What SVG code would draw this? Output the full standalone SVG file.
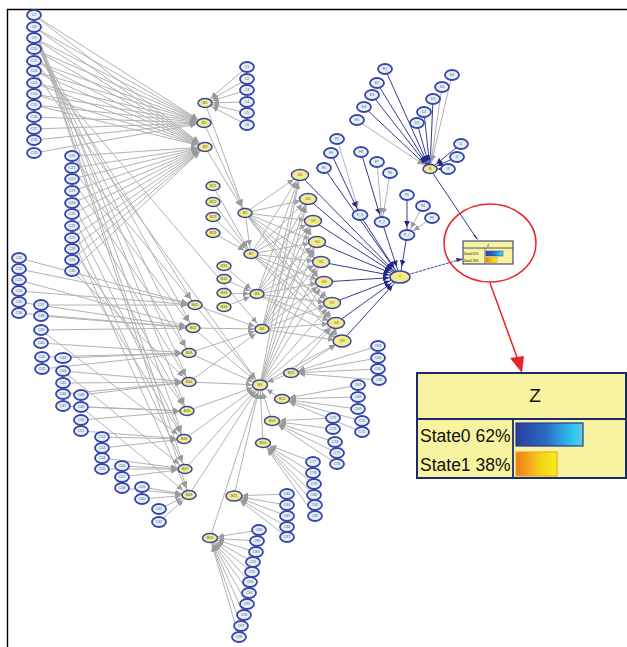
<svg xmlns="http://www.w3.org/2000/svg" width="627" height="647" viewBox="0 0 627 647">
<defs>
<style>
.lb{fill:#e3f1f8;stroke:#3a44a8;stroke-width:1.8}
.yl{fill:#f4ec86;stroke:#3a44a8;stroke-width:1.5}
.t{font-family:"Liberation Sans",Arial,sans-serif;font-size:3.6px;fill:#556;text-anchor:middle}
.g{stroke:#b2b2b2;stroke-width:1;fill:none;marker-end:url(#ag)}
.b{stroke:#333c94;stroke-width:1;fill:none;marker-end:url(#ab)}
.bY{stroke:#333c94;stroke-width:1;fill:none;marker-end:url(#aY)}
.zt{font-family:"Liberation Sans",Arial,sans-serif;fill:#111}
</style>
<marker id="ag" viewBox="0 0 16 6" refX="14" refY="3" markerWidth="16" markerHeight="6" markerUnits="userSpaceOnUse" orient="auto"><path d="M0,0 L6,3 L0,6z" fill="#9a9a9a"/></marker>
<marker id="ab" viewBox="0 0 16 6" refX="14" refY="3" markerWidth="16" markerHeight="6" markerUnits="userSpaceOnUse" orient="auto"><path d="M0,0 L6,3 L0,6z" fill="#222a88"/></marker>
<marker id="aY" viewBox="0 0 18 6" refX="17" refY="3" markerWidth="18" markerHeight="6" markerUnits="userSpaceOnUse" orient="auto"><path d="M0,0 L6,3 L0,6z" fill="#222a88"/></marker>
<linearGradient id="gb" x1="0" x2="1" y1="0" y2="0"><stop offset="0" stop-color="#2a3f9c"/><stop offset="0.45" stop-color="#2a6cc4"/><stop offset="0.85" stop-color="#2ec6f2"/><stop offset="1" stop-color="#62c9dc"/></linearGradient>
<linearGradient id="go" x1="0" x2="1" y1="0" y2="0"><stop offset="0" stop-color="#f07a1c"/><stop offset="0.6" stop-color="#f6d21a"/><stop offset="1" stop-color="#f8ec18"/></linearGradient>
</defs>
<rect x="0" y="0" width="627" height="647" fill="#fff"/>
<path d="M7.5,647 V9.5 H627" fill="none" stroke="#000" stroke-width="1.4"/>

<g id="connectors">
<line class="g" x1="34" y1="15" x2="204" y2="123"/><line class="g" x1="34" y1="27" x2="204" y2="123"/><line class="g" x1="34" y1="38" x2="204" y2="123"/><line class="g" x1="34" y1="49" x2="204" y2="123"/><line class="g" x1="34" y1="61" x2="204" y2="123"/><line class="g" x1="34" y1="71" x2="204" y2="123"/><line class="g" x1="34" y1="83" x2="204" y2="123"/><line class="g" x1="34" y1="94" x2="204" y2="123"/><line class="g" x1="34" y1="105" x2="204" y2="123"/><line class="g" x1="34" y1="117" x2="204" y2="123"/><line class="g" x1="34" y1="129" x2="204" y2="123"/><line class="g" x1="34" y1="140" x2="204" y2="123"/><line class="g" x1="34" y1="153" x2="204" y2="123"/>
<line class="g" x1="34" y1="15" x2="205" y2="147"/><line class="g" x1="34" y1="27" x2="205" y2="147"/><line class="g" x1="34" y1="38" x2="205" y2="147"/><line class="g" x1="34" y1="49" x2="205" y2="147"/><line class="g" x1="34" y1="61" x2="205" y2="147"/><line class="g" x1="34" y1="71" x2="205" y2="147"/><line class="g" x1="34" y1="83" x2="205" y2="147"/><line class="g" x1="34" y1="94" x2="205" y2="147"/><line class="g" x1="34" y1="105" x2="205" y2="147"/>
<line class="g" x1="34" y1="27" x2="184" y2="439"/><line class="g" x1="34" y1="27" x2="185" y2="469"/><line class="g" x1="34" y1="27" x2="189" y2="495"/><line class="g" x1="34" y1="27" x2="187" y2="411"/>
<line class="g" x1="34" y1="38" x2="189" y2="382"/><line class="g" x1="34" y1="38" x2="189" y2="353"/><line class="g" x1="34" y1="38" x2="193" y2="328"/>
<line class="g" x1="34" y1="49" x2="195" y2="305"/><line class="g" x1="34" y1="61" x2="262" y2="329"/><line class="g" x1="34" y1="71" x2="260" y2="385"/>
<line class="g" x1="72" y1="156" x2="205" y2="147"/><line class="g" x1="72" y1="168" x2="205" y2="147"/><line class="g" x1="72" y1="179" x2="205" y2="147"/><line class="g" x1="72" y1="191" x2="205" y2="147"/><line class="g" x1="72" y1="203" x2="205" y2="147"/><line class="g" x1="72" y1="214" x2="205" y2="147"/><line class="g" x1="72" y1="226" x2="205" y2="147"/><line class="g" x1="72" y1="238" x2="205" y2="147"/><line class="g" x1="72" y1="249" x2="205" y2="147"/><line class="g" x1="72" y1="260" x2="205" y2="147"/><line class="g" x1="72" y1="271" x2="205" y2="147"/>
<line class="g" x1="72" y1="156" x2="195" y2="305"/><line class="g" x1="72" y1="168" x2="193" y2="328"/><line class="g" x1="72" y1="179" x2="189" y2="353"/><line class="g" x1="72" y1="191" x2="189" y2="382"/><line class="g" x1="72" y1="203" x2="187" y2="411"/><line class="g" x1="72" y1="214" x2="184" y2="439"/><line class="g" x1="72" y1="226" x2="185" y2="469"/><line class="g" x1="72" y1="238" x2="189" y2="495"/><line class="g" x1="72" y1="249" x2="187" y2="411"/><line class="g" x1="72" y1="260" x2="184" y2="439"/><line class="g" x1="72" y1="271" x2="189" y2="382"/>
<line class="g" x1="19" y1="258" x2="195" y2="305"/><line class="g" x1="19" y1="269" x2="195" y2="305"/><line class="g" x1="19" y1="280" x2="193" y2="328"/><line class="g" x1="19" y1="291" x2="195" y2="305"/><line class="g" x1="19" y1="302" x2="193" y2="328"/><line class="g" x1="19" y1="313" x2="193" y2="328"/>
<line class="g" x1="41" y1="305" x2="195" y2="305"/><line class="g" x1="41" y1="316" x2="193" y2="328"/><line class="g" x1="41" y1="330" x2="193" y2="328"/><line class="g" x1="41" y1="343" x2="189" y2="353"/><line class="g" x1="42" y1="357" x2="189" y2="353"/><line class="g" x1="42" y1="369" x2="189" y2="353"/>
<line class="g" x1="63" y1="358" x2="189" y2="353"/><line class="g" x1="63" y1="371" x2="189" y2="382"/><line class="g" x1="63" y1="383" x2="189" y2="382"/><line class="g" x1="63" y1="394" x2="189" y2="382"/><line class="g" x1="63" y1="406" x2="187" y2="411"/>
<line class="g" x1="81" y1="395" x2="189" y2="382"/><line class="g" x1="81" y1="407" x2="187" y2="411"/><line class="g" x1="81" y1="420" x2="187" y2="411"/><line class="g" x1="81" y1="431" x2="184" y2="439"/>
<line class="g" x1="102" y1="437" x2="184" y2="439"/><line class="g" x1="102" y1="448" x2="184" y2="439"/><line class="g" x1="102" y1="458" x2="185" y2="469"/><line class="g" x1="102" y1="469" x2="185" y2="469"/>
<line class="g" x1="122" y1="466" x2="185" y2="469"/><line class="g" x1="122" y1="477" x2="185" y2="469"/><line class="g" x1="122" y1="488" x2="189" y2="495"/>
<line class="g" x1="142" y1="487" x2="189" y2="495"/><line class="g" x1="142" y1="499" x2="189" y2="495"/>
<line class="g" x1="159" y1="509" x2="189" y2="495"/><line class="g" x1="159" y1="522" x2="189" y2="495"/>
<line class="g" x1="63" y1="371" x2="185" y2="469"/><line class="g" x1="41" y1="330" x2="184" y2="439"/><line class="g" x1="81" y1="407" x2="189" y2="495"/>
<line class="g" x1="195" y1="305" x2="262" y2="329"/><line class="g" x1="193" y1="328" x2="262" y2="329"/><line class="g" x1="189" y1="353" x2="262" y2="329"/><line class="g" x1="195" y1="305" x2="260" y2="385"/><line class="g" x1="193" y1="328" x2="260" y2="385"/><line class="g" x1="189" y1="353" x2="260" y2="385"/><line class="g" x1="189" y1="382" x2="260" y2="385"/><line class="g" x1="187" y1="411" x2="260" y2="385"/><line class="g" x1="184" y1="439" x2="260" y2="385"/><line class="g" x1="185" y1="469" x2="260" y2="385"/><line class="g" x1="189" y1="495" x2="260" y2="385"/><line class="g" x1="189" y1="382" x2="262" y2="329"/>
<line class="g" x1="247" y1="67" x2="205" y2="103"/><line class="g" x1="247" y1="79" x2="205" y2="103"/><line class="g" x1="247" y1="90" x2="205" y2="103"/><line class="g" x1="247" y1="102" x2="205" y2="103"/><line class="g" x1="247" y1="113" x2="205" y2="103"/><line class="g" x1="247" y1="125" x2="205" y2="103"/>
<line class="g" x1="205" y1="103" x2="245" y2="213"/><line class="g" x1="204" y1="123" x2="245" y2="213"/><line class="g" x1="205" y1="147" x2="245" y2="213"/>
<line class="g" x1="213" y1="186" x2="251" y2="254"/><line class="g" x1="213" y1="202" x2="251" y2="254"/><line class="g" x1="213" y1="217" x2="251" y2="254"/><line class="g" x1="213" y1="233" x2="251" y2="254"/>
<line class="g" x1="224" y1="266" x2="257" y2="294"/><line class="g" x1="224" y1="279" x2="257" y2="294"/><line class="g" x1="224" y1="293" x2="257" y2="294"/><line class="g" x1="224" y1="307" x2="257" y2="294"/>
<line class="g" x1="245" y1="213" x2="251" y2="254"/>
<line class="g" x1="245" y1="213" x2="300" y2="175"/><line class="g" x1="245" y1="213" x2="308" y2="199"/><line class="g" x1="245" y1="213" x2="313" y2="221"/><line class="g" x1="245" y1="213" x2="317" y2="242"/><line class="g" x1="245" y1="213" x2="321" y2="262"/><line class="g" x1="245" y1="213" x2="324" y2="282"/><line class="g" x1="245" y1="213" x2="332" y2="303"/><line class="g" x1="245" y1="213" x2="336" y2="323"/><line class="g" x1="245" y1="213" x2="342" y2="341"/>
<line class="g" x1="251" y1="254" x2="300" y2="175"/><line class="g" x1="251" y1="254" x2="308" y2="199"/><line class="g" x1="251" y1="254" x2="313" y2="221"/><line class="g" x1="251" y1="254" x2="317" y2="242"/><line class="g" x1="251" y1="254" x2="321" y2="262"/><line class="g" x1="251" y1="254" x2="324" y2="282"/><line class="g" x1="251" y1="254" x2="332" y2="303"/><line class="g" x1="251" y1="254" x2="336" y2="323"/><line class="g" x1="251" y1="254" x2="342" y2="341"/>
<line class="g" x1="257" y1="294" x2="300" y2="175"/><line class="g" x1="257" y1="294" x2="308" y2="199"/><line class="g" x1="257" y1="294" x2="313" y2="221"/><line class="g" x1="257" y1="294" x2="317" y2="242"/><line class="g" x1="257" y1="294" x2="321" y2="262"/><line class="g" x1="257" y1="294" x2="324" y2="282"/><line class="g" x1="257" y1="294" x2="332" y2="303"/><line class="g" x1="257" y1="294" x2="336" y2="323"/><line class="g" x1="257" y1="294" x2="342" y2="341"/>
<line class="g" x1="262" y1="329" x2="300" y2="175"/><line class="g" x1="262" y1="329" x2="308" y2="199"/><line class="g" x1="262" y1="329" x2="313" y2="221"/><line class="g" x1="262" y1="329" x2="317" y2="242"/><line class="g" x1="262" y1="329" x2="321" y2="262"/><line class="g" x1="262" y1="329" x2="324" y2="282"/><line class="g" x1="262" y1="329" x2="332" y2="303"/><line class="g" x1="262" y1="329" x2="336" y2="323"/><line class="g" x1="262" y1="329" x2="342" y2="341"/>
<line class="g" x1="260" y1="385" x2="300" y2="175"/><line class="g" x1="260" y1="385" x2="308" y2="199"/><line class="g" x1="260" y1="385" x2="313" y2="221"/><line class="g" x1="260" y1="385" x2="317" y2="242"/><line class="g" x1="260" y1="385" x2="321" y2="262"/><line class="g" x1="260" y1="385" x2="324" y2="282"/><line class="g" x1="260" y1="385" x2="332" y2="303"/><line class="g" x1="260" y1="385" x2="336" y2="323"/><line class="g" x1="260" y1="385" x2="342" y2="341"/>
<line class="g" x1="378" y1="346" x2="291" y2="373"/><line class="g" x1="378" y1="358" x2="291" y2="373"/><line class="g" x1="378" y1="369" x2="291" y2="373"/><line class="g" x1="379" y1="380" x2="291" y2="373"/>
<line class="g" x1="358" y1="385" x2="282" y2="399"/><line class="g" x1="358" y1="397" x2="282" y2="399"/><line class="g" x1="358" y1="409" x2="282" y2="399"/><line class="g" x1="362" y1="421" x2="282" y2="399"/><line class="g" x1="362" y1="432" x2="282" y2="399"/>
<line class="g" x1="333" y1="418" x2="272" y2="421"/><line class="g" x1="333" y1="429" x2="272" y2="421"/><line class="g" x1="335" y1="442" x2="272" y2="421"/><line class="g" x1="337" y1="453" x2="272" y2="421"/><line class="g" x1="337" y1="464" x2="272" y2="421"/>
<line class="g" x1="313" y1="462" x2="263" y2="443"/><line class="g" x1="313" y1="473" x2="263" y2="443"/><line class="g" x1="314" y1="484" x2="263" y2="443"/><line class="g" x1="314" y1="495" x2="263" y2="443"/><line class="g" x1="315" y1="505" x2="263" y2="443"/><line class="g" x1="315" y1="516" x2="263" y2="443"/>
<line class="g" x1="287" y1="494" x2="234" y2="496"/><line class="g" x1="287" y1="505" x2="234" y2="496"/><line class="g" x1="287" y1="516" x2="234" y2="496"/><line class="g" x1="287" y1="527" x2="234" y2="496"/><line class="g" x1="287" y1="537" x2="234" y2="496"/>
<line class="g" x1="259" y1="530" x2="210" y2="538"/><line class="g" x1="257" y1="541" x2="210" y2="538"/><line class="g" x1="256" y1="552" x2="210" y2="538"/><line class="g" x1="253" y1="562" x2="210" y2="538"/><line class="g" x1="252" y1="572" x2="210" y2="538"/><line class="g" x1="250" y1="582" x2="210" y2="538"/><line class="g" x1="249" y1="593" x2="210" y2="538"/><line class="g" x1="247" y1="604" x2="210" y2="538"/><line class="g" x1="244" y1="615" x2="210" y2="538"/><line class="g" x1="241" y1="626" x2="210" y2="538"/><line class="g" x1="239" y1="637" x2="210" y2="538"/>
<line class="g" x1="291" y1="373" x2="260" y2="385"/><line class="g" x1="282" y1="399" x2="260" y2="385"/><line class="g" x1="272" y1="421" x2="260" y2="385"/><line class="g" x1="263" y1="443" x2="260" y2="385"/><line class="g" x1="234" y1="496" x2="260" y2="385"/><line class="g" x1="210" y1="538" x2="260" y2="385"/>
<line class="g" x1="291" y1="373" x2="342" y2="341"/><line class="g" x1="291" y1="373" x2="336" y2="323"/>
<line class="b" x1="385" y1="69" x2="430" y2="169"/><line class="b" x1="377" y1="83" x2="430" y2="169"/><line class="b" x1="372" y1="95" x2="430" y2="169"/><line class="b" x1="364" y1="107" x2="430" y2="169"/><line class="g" x1="357" y1="120" x2="430" y2="169"/>
<line class="b" x1="417" y1="123" x2="430" y2="169"/><line class="b" x1="424" y1="112" x2="430" y2="169"/><line class="b" x1="433" y1="99" x2="430" y2="169"/><line class="g" x1="442" y1="87" x2="430" y2="169"/><line class="g" x1="452" y1="75" x2="430" y2="169"/>
<line class="b" x1="461" y1="144" x2="430" y2="169"/><line class="b" x1="457" y1="157" x2="430" y2="169"/><line class="b" x1="448" y1="169" x2="430" y2="169"/>
<line class="g" x1="337" y1="139" x2="360" y2="215"/><line class="b" x1="331" y1="153" x2="360" y2="215"/><line class="bY" x1="324" y1="168" x2="400" y2="277"/>
<line class="b" x1="361" y1="152" x2="382" y2="222"/><line class="g" x1="377" y1="162" x2="382" y2="222"/><line class="g" x1="390" y1="173" x2="382" y2="222"/>
<line class="b" x1="407" y1="195" x2="407" y2="235"/><line class="g" x1="423" y1="206" x2="407" y2="235"/><line class="g" x1="432" y1="218" x2="407" y2="235"/>
<line class="bY" x1="360" y1="215" x2="400" y2="277"/><line class="bY" x1="382" y1="222" x2="400" y2="277"/><line class="bY" x1="407" y1="235" x2="400" y2="277"/>
<line class="bY" x1="300" y1="175" x2="400" y2="277"/><line class="bY" x1="308" y1="199" x2="400" y2="277"/><line class="bY" x1="313" y1="221" x2="400" y2="277"/><line class="bY" x1="317" y1="242" x2="400" y2="277"/><line class="bY" x1="321" y1="262" x2="400" y2="277"/><line class="bY" x1="324" y1="282" x2="400" y2="277"/><line class="bY" x1="332" y1="303" x2="400" y2="277"/><line class="bY" x1="336" y1="323" x2="400" y2="277"/><line class="bY" x1="342" y1="341" x2="400" y2="277"/>
<line stroke="#333c94" stroke-width="1" x1="430" y1="169" x2="477" y2="239"/><path d="M473,235 L479,241 L475,235z" fill="#222a88"/>
<line stroke="#333c94" stroke-width="1" stroke-dasharray="3,1" x1="400" y1="277" x2="462" y2="259"/><path d="M456,258 L463,259 L457,262z" fill="#222a88"/>
<line stroke="#e8262a" stroke-width="1.5" x1="490" y1="283" x2="518" y2="360"/>
<path d="M510,358 L524,356 L522,373z" fill="#e8262a"/>
</g>

<g id="red-circle"><ellipse cx="490" cy="243" rx="46" ry="39" fill="none" stroke="#e8262a" stroke-width="1.5"/></g>

<g id="nodes">
<g id="n-C7"><ellipse class="lb" cx="34" cy="15" rx="7" ry="5"/><text class="t" x="34" y="16.3">C7</text></g>
<g id="n-C8"><ellipse class="lb" cx="34" cy="27" rx="7" ry="5"/><text class="t" x="34" y="28.3">C8</text></g>
<g id="n-C9"><ellipse class="lb" cx="34" cy="38" rx="7" ry="5"/><text class="t" x="34" y="39.3">C9</text></g>
<g id="n-C10"><ellipse class="lb" cx="34" cy="49" rx="7" ry="5"/><text class="t" x="34" y="50.3">C10</text></g>
<g id="n-C11"><ellipse class="lb" cx="34" cy="61" rx="7" ry="5"/><text class="t" x="34" y="62.3">C11</text></g>
<g id="n-C12"><ellipse class="lb" cx="34" cy="71" rx="7" ry="5"/><text class="t" x="34" y="72.3">C12</text></g>
<g id="n-C13"><ellipse class="lb" cx="34" cy="83" rx="7" ry="5"/><text class="t" x="34" y="84.3">C13</text></g>
<g id="n-C14"><ellipse class="lb" cx="34" cy="94" rx="7" ry="5"/><text class="t" x="34" y="95.3">C14</text></g>
<g id="n-C15"><ellipse class="lb" cx="34" cy="105" rx="7" ry="5"/><text class="t" x="34" y="106.3">C15</text></g>
<g id="n-C16"><ellipse class="lb" cx="34" cy="117" rx="7" ry="5"/><text class="t" x="34" y="118.3">C16</text></g>
<g id="n-C17"><ellipse class="lb" cx="34" cy="129" rx="7" ry="5"/><text class="t" x="34" y="130.3">C17</text></g>
<g id="n-C18"><ellipse class="lb" cx="34" cy="140" rx="7" ry="5"/><text class="t" x="34" y="141.3">C18</text></g>
<g id="n-C19"><ellipse class="lb" cx="34" cy="153" rx="7" ry="5"/><text class="t" x="34" y="154.3">C19</text></g>
<g id="n-C20"><ellipse class="lb" cx="72" cy="156" rx="7" ry="5"/><text class="t" x="72" y="157.3">C20</text></g>
<g id="n-C21"><ellipse class="lb" cx="72" cy="168" rx="7" ry="5"/><text class="t" x="72" y="169.3">C21</text></g>
<g id="n-C22"><ellipse class="lb" cx="72" cy="179" rx="7" ry="5"/><text class="t" x="72" y="180.3">C22</text></g>
<g id="n-C23"><ellipse class="lb" cx="72" cy="191" rx="7" ry="5"/><text class="t" x="72" y="192.3">C23</text></g>
<g id="n-C24"><ellipse class="lb" cx="72" cy="203" rx="7" ry="5"/><text class="t" x="72" y="204.3">C24</text></g>
<g id="n-C25"><ellipse class="lb" cx="72" cy="214" rx="7" ry="5"/><text class="t" x="72" y="215.3">C25</text></g>
<g id="n-C26"><ellipse class="lb" cx="72" cy="226" rx="7" ry="5"/><text class="t" x="72" y="227.3">C26</text></g>
<g id="n-C27"><ellipse class="lb" cx="72" cy="238" rx="7" ry="5"/><text class="t" x="72" y="239.3">C27</text></g>
<g id="n-C28"><ellipse class="lb" cx="72" cy="249" rx="7" ry="5"/><text class="t" x="72" y="250.3">C28</text></g>
<g id="n-C29"><ellipse class="lb" cx="72" cy="260" rx="7" ry="5"/><text class="t" x="72" y="261.3">C29</text></g>
<g id="n-C30"><ellipse class="lb" cx="72" cy="271" rx="7" ry="5"/><text class="t" x="72" y="272.3">C30</text></g>
<g id="n-C31"><ellipse class="lb" cx="19" cy="258" rx="7" ry="5"/><text class="t" x="19" y="259.3">C31</text></g>
<g id="n-C32"><ellipse class="lb" cx="19" cy="269" rx="7" ry="5"/><text class="t" x="19" y="270.3">C32</text></g>
<g id="n-C33"><ellipse class="lb" cx="19" cy="280" rx="7" ry="5"/><text class="t" x="19" y="281.3">C33</text></g>
<g id="n-C34"><ellipse class="lb" cx="19" cy="291" rx="7" ry="5"/><text class="t" x="19" y="292.3">C34</text></g>
<g id="n-C35"><ellipse class="lb" cx="19" cy="302" rx="7" ry="5"/><text class="t" x="19" y="303.3">C35</text></g>
<g id="n-C36"><ellipse class="lb" cx="19" cy="313" rx="7" ry="5"/><text class="t" x="19" y="314.3">C36</text></g>
<g id="n-C37"><ellipse class="lb" cx="41" cy="305" rx="7" ry="5"/><text class="t" x="41" y="306.3">C37</text></g>
<g id="n-C38"><ellipse class="lb" cx="41" cy="316" rx="7" ry="5"/><text class="t" x="41" y="317.3">C38</text></g>
<g id="n-C39"><ellipse class="lb" cx="41" cy="330" rx="7" ry="5"/><text class="t" x="41" y="331.3">C39</text></g>
<g id="n-C40"><ellipse class="lb" cx="41" cy="343" rx="7" ry="5"/><text class="t" x="41" y="344.3">C40</text></g>
<g id="n-C41"><ellipse class="lb" cx="42" cy="357" rx="7" ry="5"/><text class="t" x="42" y="358.3">C41</text></g>
<g id="n-C42"><ellipse class="lb" cx="42" cy="369" rx="7" ry="5"/><text class="t" x="42" y="370.3">C42</text></g>
<g id="n-C43"><ellipse class="lb" cx="63" cy="358" rx="8" ry="5"/><text class="t" x="63" y="359.3">C43</text></g>
<g id="n-C44"><ellipse class="lb" cx="63" cy="371" rx="7" ry="5"/><text class="t" x="63" y="372.3">C44</text></g>
<g id="n-C45"><ellipse class="lb" cx="63" cy="383" rx="7" ry="5"/><text class="t" x="63" y="384.3">C45</text></g>
<g id="n-C46"><ellipse class="lb" cx="63" cy="394" rx="7" ry="5"/><text class="t" x="63" y="395.3">C46</text></g>
<g id="n-C47"><ellipse class="lb" cx="63" cy="406" rx="7" ry="5"/><text class="t" x="63" y="407.3">C47</text></g>
<g id="n-C48"><ellipse class="lb" cx="81" cy="395" rx="7" ry="5"/><text class="t" x="81" y="396.3">C48</text></g>
<g id="n-C49"><ellipse class="lb" cx="81" cy="407" rx="7" ry="5"/><text class="t" x="81" y="408.3">C49</text></g>
<g id="n-C50"><ellipse class="lb" cx="81" cy="420" rx="7" ry="5"/><text class="t" x="81" y="421.3">C50</text></g>
<g id="n-C51"><ellipse class="lb" cx="81" cy="431" rx="7" ry="5"/><text class="t" x="81" y="432.3">C51</text></g>
<g id="n-C52"><ellipse class="lb" cx="102" cy="437" rx="7" ry="5"/><text class="t" x="102" y="438.3">C52</text></g>
<g id="n-C53"><ellipse class="lb" cx="102" cy="448" rx="7" ry="5"/><text class="t" x="102" y="449.3">C53</text></g>
<g id="n-C54"><ellipse class="lb" cx="102" cy="458" rx="7" ry="5"/><text class="t" x="102" y="459.3">C54</text></g>
<g id="n-C55"><ellipse class="lb" cx="102" cy="469" rx="7" ry="5"/><text class="t" x="102" y="470.3">C55</text></g>
<g id="n-C56"><ellipse class="lb" cx="122" cy="466" rx="7" ry="5"/><text class="t" x="122" y="467.3">C56</text></g>
<g id="n-C57"><ellipse class="lb" cx="122" cy="477" rx="7" ry="5"/><text class="t" x="122" y="478.3">C57</text></g>
<g id="n-C58"><ellipse class="lb" cx="122" cy="488" rx="7" ry="5"/><text class="t" x="122" y="489.3">C58</text></g>
<g id="n-C59"><ellipse class="lb" cx="142" cy="487" rx="7" ry="5"/><text class="t" x="142" y="488.3">C59</text></g>
<g id="n-C60"><ellipse class="lb" cx="142" cy="499" rx="7" ry="5"/><text class="t" x="142" y="500.3">C60</text></g>
<g id="n-C61"><ellipse class="lb" cx="159" cy="509" rx="7" ry="5"/><text class="t" x="159" y="510.3">C61</text></g>
<g id="n-C62"><ellipse class="lb" cx="159" cy="522" rx="7" ry="5"/><text class="t" x="159" y="523.3">C62</text></g>
<g id="n-C1"><ellipse class="lb" cx="247" cy="67" rx="7" ry="5"/><text class="t" x="247" y="68.3">C1</text></g>
<g id="n-C2"><ellipse class="lb" cx="247" cy="79" rx="7" ry="5"/><text class="t" x="247" y="80.3">C2</text></g>
<g id="n-C3"><ellipse class="lb" cx="247" cy="90" rx="7" ry="5"/><text class="t" x="247" y="91.3">C3</text></g>
<g id="n-C4"><ellipse class="lb" cx="247" cy="102" rx="7" ry="5"/><text class="t" x="247" y="103.3">C4</text></g>
<g id="n-C5"><ellipse class="lb" cx="247" cy="113" rx="7" ry="5"/><text class="t" x="247" y="114.3">C5</text></g>
<g id="n-C6"><ellipse class="lb" cx="247" cy="125" rx="7" ry="5"/><text class="t" x="247" y="126.3">C6</text></g>
<g id="n-B1"><ellipse class="yl" cx="205" cy="103" rx="7" ry="4.5"/><text class="t" x="205" y="104.3">B1</text></g>
<g id="n-B2"><ellipse class="yl" cx="204" cy="123" rx="7" ry="4.5"/><text class="t" x="204" y="124.3">B2</text></g>
<g id="n-B3"><ellipse class="yl" cx="205" cy="147" rx="7" ry="4.5"/><text class="t" x="205" y="148.3">B3</text></g>
<g id="n-S1"><ellipse class="yl" cx="213" cy="186" rx="7" ry="4.5"/><text class="t" x="213" y="187.3">B21</text></g>
<g id="n-S2"><ellipse class="yl" cx="213" cy="202" rx="7" ry="4.5"/><text class="t" x="213" y="203.3">B22</text></g>
<g id="n-S3"><ellipse class="yl" cx="213" cy="217" rx="7" ry="4.5"/><text class="t" x="213" y="218.3">B23</text></g>
<g id="n-S4"><ellipse class="yl" cx="213" cy="233" rx="7" ry="4.5"/><text class="t" x="213" y="234.3">B24</text></g>
<g id="n-T1"><ellipse class="yl" cx="224" cy="266" rx="7" ry="4.5"/><text class="t" x="224" y="267.3">B31</text></g>
<g id="n-T2"><ellipse class="yl" cx="224" cy="279" rx="7" ry="4.5"/><text class="t" x="224" y="280.3">B32</text></g>
<g id="n-T3"><ellipse class="yl" cx="224" cy="293" rx="7" ry="4.5"/><text class="t" x="224" y="294.3">B33</text></g>
<g id="n-T4"><ellipse class="yl" cx="224" cy="307" rx="7" ry="4.5"/><text class="t" x="224" y="308.3">B34</text></g>
<g id="n-D1"><ellipse class="yl" cx="245" cy="213" rx="7" ry="4.5"/><text class="t" x="245" y="214.3">B1</text></g>
<g id="n-D2"><ellipse class="yl" cx="251" cy="254" rx="7" ry="4.5"/><text class="t" x="251" y="255.3">B2</text></g>
<g id="n-D3"><ellipse class="yl" cx="257" cy="294" rx="7" ry="4.5"/><text class="t" x="257" y="295.3">B3</text></g>
<g id="n-D4"><ellipse class="yl" cx="262" cy="329" rx="7" ry="4.5"/><text class="t" x="262" y="330.3">B4</text></g>
<g id="n-H"><ellipse class="yl" cx="260" cy="385" rx="7.5" ry="5"/><text class="t" x="260" y="386.3">B5</text></g>
<g id="n-A1"><ellipse class="yl" cx="195" cy="305" rx="7" ry="4.5"/><text class="t" x="195" y="306.3">B41</text></g>
<g id="n-A2"><ellipse class="yl" cx="193" cy="328" rx="7" ry="4.5"/><text class="t" x="193" y="329.3">B42</text></g>
<g id="n-A3"><ellipse class="yl" cx="189" cy="353" rx="7" ry="4.5"/><text class="t" x="189" y="354.3">B43</text></g>
<g id="n-A4"><ellipse class="yl" cx="189" cy="382" rx="7" ry="4.5"/><text class="t" x="189" y="383.3">B44</text></g>
<g id="n-A5"><ellipse class="yl" cx="187" cy="411" rx="7" ry="4.5"/><text class="t" x="187" y="412.3">B45</text></g>
<g id="n-A6"><ellipse class="yl" cx="184" cy="439" rx="7" ry="4.5"/><text class="t" x="184" y="440.3">B46</text></g>
<g id="n-A7"><ellipse class="yl" cx="185" cy="469" rx="7" ry="4.5"/><text class="t" x="185" y="470.3">B47</text></g>
<g id="n-A8"><ellipse class="yl" cx="189" cy="495" rx="7" ry="4.5"/><text class="t" x="189" y="496.3">B48</text></g>
<g id="n-K1"><ellipse class="yl" cx="291" cy="373" rx="7.5" ry="4.5"/><text class="t" x="291" y="374.3">B51</text></g>
<g id="n-K2"><ellipse class="yl" cx="282" cy="399" rx="7.5" ry="4.5"/><text class="t" x="282" y="400.3">B52</text></g>
<g id="n-K3"><ellipse class="yl" cx="272" cy="421" rx="7.5" ry="4.5"/><text class="t" x="272" y="422.3">B53</text></g>
<g id="n-K4"><ellipse class="yl" cx="263" cy="443" rx="7.5" ry="4.5"/><text class="t" x="263" y="444.3">B54</text></g>
<g id="n-K5"><ellipse class="yl" cx="234" cy="496" rx="8" ry="5"/><text class="t" x="234" y="497.3">B55</text></g>
<g id="n-K6"><ellipse class="yl" cx="210" cy="538" rx="7.5" ry="4.5"/><text class="t" x="210" y="539.3">B56</text></g>
<g id="n-G1"><ellipse class="yl" cx="300" cy="175" rx="8.5" ry="5.5"/><text class="t" x="300" y="176.3">G1</text></g>
<g id="n-G2"><ellipse class="yl" cx="308" cy="199" rx="8.5" ry="5.5"/><text class="t" x="308" y="200.3">G2</text></g>
<g id="n-G3"><ellipse class="yl" cx="313" cy="221" rx="8.5" ry="5.5"/><text class="t" x="313" y="222.3">G3</text></g>
<g id="n-G4"><ellipse class="yl" cx="317" cy="242" rx="8.5" ry="5.5"/><text class="t" x="317" y="243.3">G4</text></g>
<g id="n-G5"><ellipse class="yl" cx="321" cy="262" rx="8.5" ry="5.5"/><text class="t" x="321" y="263.3">G5</text></g>
<g id="n-G6"><ellipse class="yl" cx="324" cy="282" rx="8.5" ry="5.5"/><text class="t" x="324" y="283.3">G6</text></g>
<g id="n-G7"><ellipse class="yl" cx="332" cy="303" rx="8.5" ry="5.5"/><text class="t" x="332" y="304.3">G7</text></g>
<g id="n-G8"><ellipse class="yl" cx="336" cy="323" rx="8.5" ry="5.5"/><text class="t" x="336" y="324.3">G8</text></g>
<g id="n-G9"><ellipse class="yl" cx="342" cy="341" rx="9" ry="6"/><text class="t" x="342" y="342.3">G9</text></g>
<g id="n-Y"><ellipse class="yl" cx="400" cy="277" rx="10" ry="6"/><text class="t" x="400" y="278.3">Y</text></g>
<g id="n-R1"><ellipse class="lb" cx="378" cy="346" rx="7" ry="5"/><text class="t" x="378" y="347.3">C63</text></g>
<g id="n-R2"><ellipse class="lb" cx="378" cy="358" rx="7" ry="5"/><text class="t" x="378" y="359.3">C64</text></g>
<g id="n-R3"><ellipse class="lb" cx="378" cy="369" rx="7" ry="5"/><text class="t" x="378" y="370.3">C65</text></g>
<g id="n-R4"><ellipse class="lb" cx="379" cy="380" rx="7" ry="5"/><text class="t" x="379" y="381.3">C66</text></g>
<g id="n-R5"><ellipse class="lb" cx="358" cy="385" rx="7" ry="5"/><text class="t" x="358" y="386.3">C67</text></g>
<g id="n-R6"><ellipse class="lb" cx="358" cy="397" rx="7" ry="5"/><text class="t" x="358" y="398.3">C68</text></g>
<g id="n-R7"><ellipse class="lb" cx="358" cy="409" rx="7" ry="5"/><text class="t" x="358" y="410.3">C69</text></g>
<g id="n-R8"><ellipse class="lb" cx="362" cy="421" rx="7" ry="5"/><text class="t" x="362" y="422.3">C70</text></g>
<g id="n-R9"><ellipse class="lb" cx="362" cy="432" rx="7" ry="5"/><text class="t" x="362" y="433.3">C71</text></g>
<g id="n-R10"><ellipse class="lb" cx="333" cy="418" rx="7" ry="5"/><text class="t" x="333" y="419.3">C72</text></g>
<g id="n-R11"><ellipse class="lb" cx="333" cy="429" rx="7" ry="5"/><text class="t" x="333" y="430.3">C73</text></g>
<g id="n-R12"><ellipse class="lb" cx="335" cy="442" rx="7" ry="5"/><text class="t" x="335" y="443.3">C74</text></g>
<g id="n-R13"><ellipse class="lb" cx="337" cy="453" rx="7" ry="5"/><text class="t" x="337" y="454.3">C75</text></g>
<g id="n-R14"><ellipse class="lb" cx="337" cy="464" rx="7" ry="5"/><text class="t" x="337" y="465.3">C76</text></g>
<g id="n-R15"><ellipse class="lb" cx="313" cy="462" rx="7" ry="5"/><text class="t" x="313" y="463.3">C77</text></g>
<g id="n-R16"><ellipse class="lb" cx="313" cy="473" rx="7" ry="5"/><text class="t" x="313" y="474.3">C78</text></g>
<g id="n-R17"><ellipse class="lb" cx="314" cy="484" rx="7" ry="5"/><text class="t" x="314" y="485.3">C79</text></g>
<g id="n-R18"><ellipse class="lb" cx="314" cy="495" rx="7" ry="5"/><text class="t" x="314" y="496.3">C80</text></g>
<g id="n-R19"><ellipse class="lb" cx="315" cy="505" rx="7" ry="5"/><text class="t" x="315" y="506.3">C81</text></g>
<g id="n-R20"><ellipse class="lb" cx="315" cy="516" rx="7" ry="5"/><text class="t" x="315" y="517.3">C82</text></g>
<g id="n-R21"><ellipse class="lb" cx="287" cy="494" rx="7" ry="5"/><text class="t" x="287" y="495.3">C83</text></g>
<g id="n-R22"><ellipse class="lb" cx="287" cy="505" rx="7" ry="5"/><text class="t" x="287" y="506.3">C84</text></g>
<g id="n-R23"><ellipse class="lb" cx="287" cy="516" rx="7" ry="5"/><text class="t" x="287" y="517.3">C85</text></g>
<g id="n-R24"><ellipse class="lb" cx="287" cy="527" rx="7" ry="5"/><text class="t" x="287" y="528.3">C86</text></g>
<g id="n-R25"><ellipse class="lb" cx="287" cy="537" rx="7" ry="5"/><text class="t" x="287" y="538.3">C87</text></g>
<g id="n-P1"><ellipse class="lb" cx="259" cy="530" rx="7" ry="5"/><text class="t" x="259" y="531.3">C88</text></g>
<g id="n-P2"><ellipse class="lb" cx="257" cy="541" rx="7" ry="5"/><text class="t" x="257" y="542.3">C89</text></g>
<g id="n-P3"><ellipse class="lb" cx="256" cy="552" rx="7" ry="5"/><text class="t" x="256" y="553.3">C90</text></g>
<g id="n-P4"><ellipse class="lb" cx="253" cy="562" rx="7" ry="5"/><text class="t" x="253" y="563.3">C91</text></g>
<g id="n-P5"><ellipse class="lb" cx="252" cy="572" rx="7" ry="5"/><text class="t" x="252" y="573.3">C92</text></g>
<g id="n-P6"><ellipse class="lb" cx="250" cy="582" rx="7" ry="5"/><text class="t" x="250" y="583.3">C93</text></g>
<g id="n-P7"><ellipse class="lb" cx="249" cy="593" rx="7" ry="5"/><text class="t" x="249" y="594.3">C94</text></g>
<g id="n-P8"><ellipse class="lb" cx="247" cy="604" rx="7" ry="5"/><text class="t" x="247" y="605.3">C95</text></g>
<g id="n-P9"><ellipse class="lb" cx="244" cy="615" rx="7" ry="5"/><text class="t" x="244" y="616.3">C96</text></g>
<g id="n-P10"><ellipse class="lb" cx="241" cy="626" rx="7" ry="5"/><text class="t" x="241" y="627.3">C97</text></g>
<g id="n-P11"><ellipse class="lb" cx="239" cy="637" rx="7" ry="5"/><text class="t" x="239" y="638.3">C98</text></g>
<g id="n-E1"><ellipse class="lb" cx="385" cy="69" rx="7" ry="5"/><text class="t" x="385" y="70.3">E1</text></g>
<g id="n-E2"><ellipse class="lb" cx="377" cy="83" rx="7" ry="5"/><text class="t" x="377" y="84.3">E2</text></g>
<g id="n-E3"><ellipse class="lb" cx="372" cy="95" rx="7" ry="5"/><text class="t" x="372" y="96.3">E3</text></g>
<g id="n-E4"><ellipse class="lb" cx="364" cy="107" rx="7" ry="5"/><text class="t" x="364" y="108.3">E4</text></g>
<g id="n-E5"><ellipse class="lb" cx="357" cy="120" rx="7" ry="5"/><text class="t" x="357" y="121.3">E5</text></g>
<g id="n-D6"><ellipse class="lb" cx="452" cy="75" rx="7" ry="5"/><text class="t" x="452" y="76.3">D6</text></g>
<g id="n-Dd4"><ellipse class="lb" cx="442" cy="87" rx="7" ry="5"/><text class="t" x="442" y="88.3">D4</text></g>
<g id="n-Dd3"><ellipse class="lb" cx="433" cy="99" rx="7" ry="5"/><text class="t" x="433" y="100.3">D3</text></g>
<g id="n-Dd2"><ellipse class="lb" cx="424" cy="112" rx="7" ry="5"/><text class="t" x="424" y="113.3">D2</text></g>
<g id="n-Dd1"><ellipse class="lb" cx="417" cy="123" rx="7" ry="5"/><text class="t" x="417" y="124.3">D1</text></g>
<g id="n-I1"><ellipse class="lb" cx="461" cy="144" rx="7" ry="5"/><text class="t" x="461" y="145.3">I1</text></g>
<g id="n-I2"><ellipse class="lb" cx="457" cy="157" rx="7" ry="5"/><text class="t" x="457" y="158.3">I2</text></g>
<g id="n-I3"><ellipse class="lb" cx="448" cy="169" rx="7" ry="5"/><text class="t" x="448" y="170.3">I3</text></g>
<g id="n-N"><ellipse class="yl" cx="430" cy="169" rx="7" ry="4.5"/><text class="t" x="430" y="170.3">N</text></g>
<g id="n-F1"><ellipse class="lb" cx="337" cy="139" rx="7" ry="5"/><text class="t" x="337" y="140.3">F1</text></g>
<g id="n-F3"><ellipse class="lb" cx="331" cy="153" rx="7" ry="5"/><text class="t" x="331" y="154.3">F3</text></g>
<g id="n-F2"><ellipse class="lb" cx="324" cy="168" rx="7" ry="5"/><text class="t" x="324" y="169.3">F2</text></g>
<g id="n-F8"><ellipse class="lb" cx="361" cy="152" rx="7" ry="5"/><text class="t" x="361" y="153.3">F8</text></g>
<g id="n-F7"><ellipse class="lb" cx="377" cy="162" rx="7" ry="5"/><text class="t" x="377" y="163.3">F7</text></g>
<g id="n-F6"><ellipse class="lb" cx="390" cy="173" rx="7" ry="5"/><text class="t" x="390" y="174.3">F6</text></g>
<g id="n-F5"><ellipse class="lb" cx="407" cy="195" rx="7" ry="5"/><text class="t" x="407" y="196.3">F5</text></g>
<g id="n-F4"><ellipse class="lb" cx="423" cy="206" rx="7" ry="5"/><text class="t" x="423" y="207.3">F4</text></g>
<g id="n-F9"><ellipse class="lb" cx="432" cy="218" rx="7" ry="5"/><text class="t" x="432" y="219.3">F9</text></g>
<g id="n-Fa"><ellipse class="lb" cx="360" cy="215" rx="7.5" ry="5"/><text class="t" x="360" y="216.3">F_3</text></g>
<g id="n-Fb"><ellipse class="lb" cx="382" cy="222" rx="7.5" ry="5"/><text class="t" x="382" y="223.3">F_2</text></g>
<g id="n-Fc"><ellipse class="lb" cx="407" cy="235" rx="7.5" ry="5"/><text class="t" x="407" y="236.3">F_1</text></g>
<g id="n-Zsmall">
<rect x="463" y="241" width="50" height="23" fill="#f8f3a0" stroke="#1f2a6b" stroke-width="1"/>
<line x1="463" y1="248" x2="513" y2="248" stroke="#1f2a6b" stroke-width="0.8"/>
<line x1="485" y1="248" x2="485" y2="264" stroke="#1f2a6b" stroke-width="0.6"/>
<text class="zt" x="488" y="246.5" font-size="3.5" text-anchor="middle">Z</text>
<text class="zt" x="464" y="255" font-size="2.8">State0 62%</text>
<text class="zt" x="464" y="261.5" font-size="2.8">State1 38%</text>
<rect x="486" y="251" width="17" height="5" fill="url(#gb)" stroke="#2a3a8a" stroke-width="0.5"/>
<rect x="486" y="257.5" width="11" height="5" fill="url(#go)" stroke="#e07a1c" stroke-width="0.4"/>
</g>
<g id="n-Zbig">
<rect x="417" y="373" width="209" height="105" fill="#f8f3a0" stroke="#1f2a6b" stroke-width="2"/>
<line x1="417" y1="419" x2="626" y2="419" stroke="#1f2a6b" stroke-width="1.8"/>
<line x1="513" y1="419" x2="513" y2="478" stroke="#1f2a6b" stroke-width="1.8"/>
<text class="zt" x="535" y="402" font-size="19" text-anchor="middle">Z</text>
<text class="zt" x="420" y="442" font-size="17.5">State0 62%</text>
<text class="zt" x="420" y="471" font-size="17.5">State1 38%</text>
<rect x="516" y="423" width="67" height="23" fill="url(#gb)" stroke="#2a3a8a" stroke-width="1.2"/>
<rect x="516" y="452" width="41" height="24" fill="url(#go)" stroke="#e8a01c" stroke-width="1"/>
</g>
</g>
</svg>
